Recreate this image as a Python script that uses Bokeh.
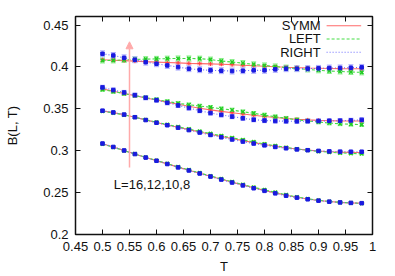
from bokeh.plotting import figure
from bokeh.models import (Range1d, FixedTicker, LinearAxis, Label, Arrow, NormalHead,
                          Whisker, TeeHead, ColumnDataSource)
from bokeh.embed import file_html
from bokeh.resources import INLINE

FONT = "Liberation Sans"

# ---------------- data ----------------
T = [0.50, 0.52, 0.54, 0.56, 0.58, 0.60, 0.62, 0.64, 0.66, 0.68, 0.70, 0.72, 0.74,
     0.76, 0.78, 0.80, 0.82, 0.84, 0.86, 0.88, 0.90, 0.92, 0.94, 0.96, 0.98]

symm16 = [0.4085, 0.4080, 0.4075, 0.4069, 0.4063, 0.4058, 0.4053, 0.4048, 0.4043, 0.4040, 0.4036, 0.4032, 0.4027,
          0.4021, 0.4015, 0.4009, 0.4003, 0.3997, 0.3992, 0.3988, 0.3985, 0.3982, 0.3980, 0.3979, 0.3979]
left16 = [0.4077, 0.4078, 0.4084, 0.4090, 0.4093, 0.4096, 0.4099, 0.4101, 0.4101, 0.4099, 0.4088, 0.4071, 0.4058,
          0.4046, 0.4031, 0.4018, 0.4006, 0.3992, 0.3980, 0.3970, 0.3960, 0.3952, 0.3946, 0.3940, 0.3935]
right16 = [0.4157, 0.4137, 0.4109, 0.4086, 0.4057, 0.4038, 0.4018, 0.3998, 0.3979, 0.3967, 0.3959, 0.3955, 0.3951,
           0.3955, 0.3959, 0.3960, 0.3971, 0.3979, 0.3979, 0.3980, 0.3983, 0.3987, 0.3988, 0.3991, 0.3995]

symm12 = [0.3738, 0.3710, 0.3683, 0.3656, 0.3630, 0.3605, 0.3580, 0.3555, 0.3530, 0.3506, 0.3487, 0.3470, 0.3454,
          0.3438, 0.3423, 0.3409, 0.3396, 0.3385, 0.3375, 0.3368, 0.3362, 0.3358, 0.3356, 0.3355, 0.3355]
left12 = [0.3730, 0.3706, 0.3682, 0.3658, 0.3634, 0.3611, 0.3588, 0.3566, 0.3548, 0.3533, 0.3518, 0.3501, 0.3486,
          0.3465, 0.3446, 0.3426, 0.3406, 0.3387, 0.3369, 0.3355, 0.3343, 0.3330, 0.3321, 0.3316, 0.3312]
right12 = [0.3756, 0.3724, 0.3695, 0.3663, 0.3632, 0.3603, 0.3572, 0.3541, 0.3510, 0.3478, 0.3450, 0.3428, 0.3407,
           0.3387, 0.3370, 0.3360, 0.3355, 0.3352, 0.3351, 0.3353, 0.3355, 0.3357, 0.3359, 0.3362, 0.3368]

symm10 = [0.3475, 0.3455, 0.3430, 0.3400, 0.3368, 0.3337, 0.3308, 0.3280, 0.3252, 0.3224, 0.3196, 0.3170, 0.3145,
          0.3120, 0.3097, 0.3074, 0.3054, 0.3036, 0.3020, 0.3007, 0.2996, 0.2988, 0.2983, 0.2980, 0.2979]
left10 = [0.3472, 0.3452, 0.3428, 0.3400, 0.3370, 0.3340, 0.3312, 0.3285, 0.3258, 0.3231, 0.3204, 0.3179, 0.3154,
          0.3129, 0.3105, 0.3081, 0.3059, 0.3039, 0.3021, 0.3005, 0.2992, 0.2982, 0.2974, 0.2968, 0.2964]
right10 = [0.3478, 0.3457, 0.3431, 0.3400, 0.3366, 0.3334, 0.3304, 0.3275, 0.3246, 0.3217, 0.3188, 0.3160, 0.3134,
           0.3109, 0.3086, 0.3064, 0.3045, 0.3029, 0.3016, 0.3006, 0.2998, 0.2992, 0.2989, 0.2988, 0.2988]

symm8 = [0.3083, 0.3044, 0.3002, 0.2961, 0.2919, 0.2882, 0.2843, 0.2804, 0.2768, 0.2732, 0.2695, 0.2660, 0.2625,
         0.2591, 0.2558, 0.2527, 0.2497, 0.2469, 0.2444, 0.2423, 0.2406, 0.2393, 0.2384, 0.2378, 0.2374]
left8 = [0.3080, 0.3042, 0.3000, 0.2962, 0.2921, 0.2884, 0.2846, 0.2807, 0.2771, 0.2735, 0.2699, 0.2664, 0.2630,
         0.2597, 0.2564, 0.2533, 0.2503, 0.2474, 0.2448, 0.2426, 0.2408, 0.2394, 0.2384, 0.2377, 0.2372]
right8 = [0.3086, 0.3045, 0.3003, 0.2960, 0.2918, 0.2880, 0.2841, 0.2801, 0.2764, 0.2728, 0.2691, 0.2655, 0.2620,
          0.2586, 0.2552, 0.2521, 0.2491, 0.2463, 0.2440, 0.2420, 0.2404, 0.2392, 0.2383, 0.2377, 0.2374]

# error bar half-widths per L (symm, left, right)
err16 = [0.0015, 0.0030, 0.0035]
err12 = [0.0012, 0.0022, 0.0025]
err10 = [0.0008, 0.0012, 0.0015]
err8 = [0.0005, 0.0008, 0.0008]

x_ticks = [0.45, 0.5, 0.55, 0.6, 0.65, 0.7, 0.75, 0.8, 0.85, 0.9, 0.95, 1.0]
x_tick_labels = ["0.45", "0.5", "0.55", "0.6", "0.65", "0.7", "0.75", "0.8", "0.85", "0.9", "0.95", "1"]
y_ticks = [0.2, 0.25, 0.3, 0.35, 0.4, 0.45]
y_tick_labels = ["0.2", "0.25", "0.3", "0.35", "0.4", "0.45"]

series_names = ["SYMM", "LEFT", "RIGHT"]
annotation_text = "L=16,12,10,8"
arrow_T, arrow_from, arrow_to = 0.55, 0.28, 0.43
note_T, note_B = 0.521, 0.26
legend_text_T, legend_line_T0, legend_line_T1 = 0.904, 0.915, 0.979
legend_B = [0.4492, 0.4334, 0.4176]

# ---------------- styles ----------------
line_cols = ["#ff6a6a", "#44dd44", "#6a6aff"]
err_cols = ["#ffa0a0", "#8cf08c", "#a8a8ff"]
mark_cols = ["#ff4040", "#22cc22", "#1a1ae0"]
dashes = ["solid", "3 2", "1 2"]

p = figure(width=395, height=276, output_backend="svg", toolbar_location=None,
           x_range=Range1d(0.45, 1.0), y_range=Range1d(0.2, 0.4602),
           min_border_left=75, min_border_right=23, min_border_top=16, min_border_bottom=40)
p.background_fill_color = "white"
p.border_fill_color = "white"
p.grid.visible = False
p.outline_line_color = "#111111"
p.outline_line_width = 1.5

xt = FixedTicker(ticks=x_ticks)
yt = FixedTicker(ticks=y_ticks)
for ax in (p.xaxis[0], p.yaxis[0]):
    ax.axis_line_color = None
    ax.major_tick_in = 5
    ax.major_tick_out = 0
    ax.major_tick_line_color = "#111111"
    ax.minor_tick_line_color = None
    ax.major_label_text_font = FONT
    ax.major_label_text_font_size = "13px"
    ax.major_label_text_color = "#111111"
    ax.major_label_standoff = 7
    ax.axis_label_text_font = FONT
    ax.axis_label_text_font_size = "13px"
    ax.axis_label_text_font_style = "normal"
    ax.axis_label_text_color = "#111111"
p.xaxis[0].ticker = xt
p.yaxis[0].ticker = yt
p.xaxis[0].major_label_overrides = {t: s for t, s in zip(x_ticks, x_tick_labels)}
p.yaxis[0].major_label_overrides = {t: s for t, s in zip(y_ticks, y_tick_labels)}
p.yaxis[0].axis_label = "B(L, T)"
p.yaxis[0].axis_label_standoff = 20
p.xaxis[0].axis_label = "T"
p.xaxis[0].axis_label_standoff = 5

for loc, tk in (("right", yt), ("above", xt)):
    ax = LinearAxis(ticker=tk, axis_line_color=None, major_tick_in=5, major_tick_out=0,
                    major_tick_line_color="#111111", minor_tick_line_color=None,
                    major_label_text_color=None, major_label_standoff=0)
    p.add_layout(ax, loc)

groups = [
    ([symm16, left16, right16], err16),
    ([symm12, left12, right12], err12),
    ([symm10, left10, right10], err10),
    ([symm8, left8, right8], err8),
]

for k in range(3):
    for vals, errs in groups:
        y = vals[k]
        e = errs[k]
        src = ColumnDataSource(dict(x=T, y=y, lo=[v - e for v in y], hi=[v + e for v in y]))
        p.add_layout(Whisker(base="x", lower="lo", upper="hi", source=src,
                             line_color=err_cols[k], line_width=1,
                             lower_head=TeeHead(size=5, line_color=err_cols[k], line_width=1),
                             upper_head=TeeHead(size=5, line_color=err_cols[k], line_width=1)))
        p.line("x", "y", source=src, line_color=line_cols[k], line_width=1.1, line_dash=dashes[k])
        if k == 0:
            p.scatter("x", "y", source=src, marker="cross", size=4, line_color=mark_cols[k])
        elif k == 1:
            p.scatter("x", "y", source=src, marker="x", size=5, line_color=mark_cols[k], line_width=1.5)
        else:
            p.scatter("x", "y", source=src, marker="square", size=3.5, fill_color=mark_cols[k],
                      line_color=mark_cols[k])

# legend (gnuplot style: text right-aligned, sample line to the right)
for k in range(3):
    p.add_layout(Label(x=legend_text_T, y=legend_B[k], text=series_names[k], text_font=FONT,
                       text_font_size="13px", text_align="right", text_baseline="middle",
                       text_color="#111111"))
    p.line([legend_line_T0, legend_line_T1], [legend_B[k], legend_B[k]], line_color=line_cols[k],
           line_width=1.1, line_dash=dashes[k])

p.add_layout(Arrow(end=NormalHead(size=7, fill_color="#ffaaaa", line_color="#ffaaaa"),
                   x_start=arrow_T, y_start=arrow_from, x_end=arrow_T, y_end=arrow_to,
                   line_color="#ffaaaa", line_width=1.5))
p.add_layout(Label(x=note_T, y=note_B, text=annotation_text, text_font=FONT, text_font_size="13px",
                   text_baseline="middle", text_color="#111111"))

open("out.html", "w").write(file_html(p, INLINE))
